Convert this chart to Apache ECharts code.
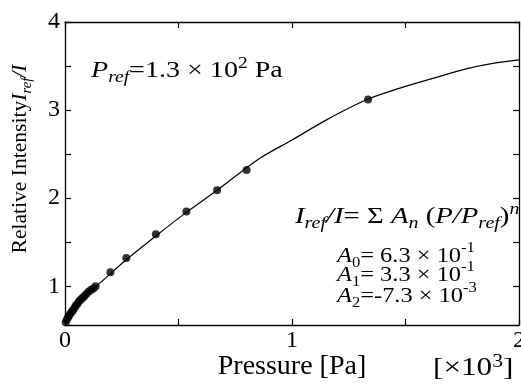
<!DOCTYPE html>
<html>
<head>
<meta charset="utf-8">
<script src="https://cdn.jsdelivr.net/npm/echarts@6/dist/echarts.min.js"></script>
<style>
  html, body { margin: 0; padding: 0; background: #fff; }
  #chart { width: 521px; height: 389px; }
</style>
</head>
<body>
<div id="chart"></div>
<script>
// fitted curve (pressure in 10^3 Pa)
var fitP = [0, 0.009, 0.022, 0.035, 0.048, 0.066, 0.084, 0.101, 0.119, 0.137, 0.27, 0.40, 0.53, 0.67, 0.86, 1.0, 1.15, 1.335, 1.476, 1.621, 1.771, 1.885, 2.0];
var fitI = [0.58, 0.625, 0.68, 0.74, 0.78, 0.84, 0.89, 0.93, 0.97, 1.0, 1.30, 1.57, 1.83, 2.09, 2.455, 2.66, 2.886, 3.125, 3.25, 3.36, 3.47, 3.53, 3.57];

// measured points
var measP = [0.003, 0.008, 0.013, 0.018, 0.024, 0.03, 0.036, 0.042, 0.048, 0.055, 0.062, 0.07, 0.078, 0.086, 0.095, 0.105, 0.115, 0.125, 0.135, 0.20, 0.27, 0.40, 0.535, 0.67, 0.80, 1.335];
var measI = [0.59, 0.62, 0.645, 0.665, 0.69, 0.71, 0.73, 0.755, 0.78, 0.80, 0.83, 0.85, 0.87, 0.89, 0.915, 0.94, 0.96, 0.975, 1.0, 1.16, 1.32, 1.59, 1.85, 2.09, 2.32, 3.12];

var yTicks = [1, 1.5, 2, 2.5, 3, 3.5, 4];
var yLabels = [1, 2, 3, 4];

var FONT = 'Liberation Serif';

function pairs(xs, ys) {
    var out = [];
    for (var i = 0; i < xs.length; i++) {
        out.push([xs[i], ys[i]]);
    }
    return out;
}

// rich styles for sub/superscripts at a given size
function makeRich(size) {
    var s = Math.round(size * 0.68);
    return {
        n: { fontFamily: FONT, fontSize: size, color: '#000', lineHeight: 30, verticalAlign: 'middle' },
        i: { fontFamily: FONT, fontSize: size, fontStyle: 'italic', color: '#000', lineHeight: 30, verticalAlign: 'middle' },
        sub: { fontFamily: FONT, fontSize: s, fontStyle: 'italic', color: '#000', lineHeight: 15, verticalAlign: 'bottom' },
        subn: { fontFamily: FONT, fontSize: s, color: '#000', lineHeight: 15, verticalAlign: 'bottom' },
        sup: { fontFamily: FONT, fontSize: s, color: '#000', lineHeight: 20, verticalAlign: 'top' },
        supi: { fontFamily: FONT, fontSize: s, fontStyle: 'italic', color: '#000', lineHeight: 20, verticalAlign: 'top' }
    };
}

function richText(text, x, y, size, sx) {
    return {
        type: 'text', x: x, y: y, scaleX: sx || 1,
        style: { text: text, rich: makeRich(size), verticalAlign: 'middle' }
    };
}

var axisLine = { show: true, onZero: false, lineStyle: { color: '#000', width: 1.3 } };
var tick = { show: true, inside: true, length: 6, lineStyle: { color: '#000', width: 1.2 } };

var chart = echarts.init(document.getElementById('chart'));
var option = {
    animation: false,
    backgroundColor: '#fff',
    grid: { left: 65, right: 2, top: 22, bottom: 64, containLabel: false, outerBoundsMode: 'none' },
    xAxis: [{
        type: 'value', min: 0, max: 2, interval: 0.5, position: 'bottom',
        axisLine: axisLine, axisTick: tick, splitLine: { show: false },
        axisLabel: {
            color: '#000', fontFamily: FONT, fontSize: 24, margin: 4,
            formatter: function (v) { return v % 1 === 0 ? String(v) : ''; }
        }
    }, {
        type: 'value', min: 0, max: 2, interval: 0.5, position: 'top',
        axisLine: axisLine, axisTick: tick, splitLine: { show: false },
        axisLabel: { show: false }
    }],
    yAxis: [{
        type: 'value', min: 0.56, max: 4, position: 'left',
        axisLine: axisLine,
        axisTick: { show: true, inside: true, length: 6, lineStyle: { color: '#000', width: 1.2 }, customValues: yTicks },
        splitLine: { show: false },
        axisLabel: { color: '#000', fontFamily: FONT, fontSize: 24, margin: 5, customValues: yLabels }
    }, {
        type: 'value', min: 0.56, max: 4, position: 'right',
        axisLine: axisLine,
        axisTick: { show: true, inside: true, length: 6, lineStyle: { color: '#000', width: 1.2 }, customValues: yTicks },
        splitLine: { show: false },
        axisLabel: { show: false }
    }],
    series: [{
        type: 'line',
        data: pairs(fitP, fitI),
        smooth: 0.3,
        showSymbol: false,
        lineStyle: { color: '#000', width: 1.2 },
        z: 2
    }, {
        type: 'scatter',
        data: pairs(measP, measI),
        symbol: 'circle',
        symbolSize: 8,
        itemStyle: { color: '#000' },
        z: 3
    }],
    graphic: [
        richText('{i|P}{sub|ref}{n|=1.3 × 10}{sup|2}{n| Pa}', 91, 71, 23, 1.22),
        richText('{i|I}{sub|ref}{i|/I}{n|= Σ }{i|A}{sub|n}{n| (}{i|P/P}{sub|ref}{n|)}{supi|n}', 295, 217, 23, 1.25),
        richText('{i|A}{subn|0}{n|= 6.3 × 10}{sup|-1}', 337, 256, 22, 1.11),
        richText('{i|A}{subn|1}{n|= 3.3 × 10}{sup|-1}', 337, 275, 22, 1.11),
        richText('{i|A}{subn|2}{n|=-7.3 × 10}{sup|-3}', 337, 296, 22, 1.11),
        {
            type: 'text', x: 292, y: 367,
            style: { text: 'Pressure [Pa]', fontFamily: FONT, fontSize: 28, fill: '#000', align: 'center', verticalAlign: 'middle' }
        },
        richText('{n|[×10}{sup|3}{n|]}', 433, 368, 26, 1.2),
        {
            type: 'text', x: 20, y: 159, rotation: Math.PI / 2, scaleX: 0.98,
            style: {
                text: '{n|Relative Intensity}{i|I}{sub|ref}{i|/I}', rich: makeRich(22),
                align: 'center', verticalAlign: 'middle'
            }
        }
    ]
};
chart.setOption(option);
</script>
</body>
</html>
